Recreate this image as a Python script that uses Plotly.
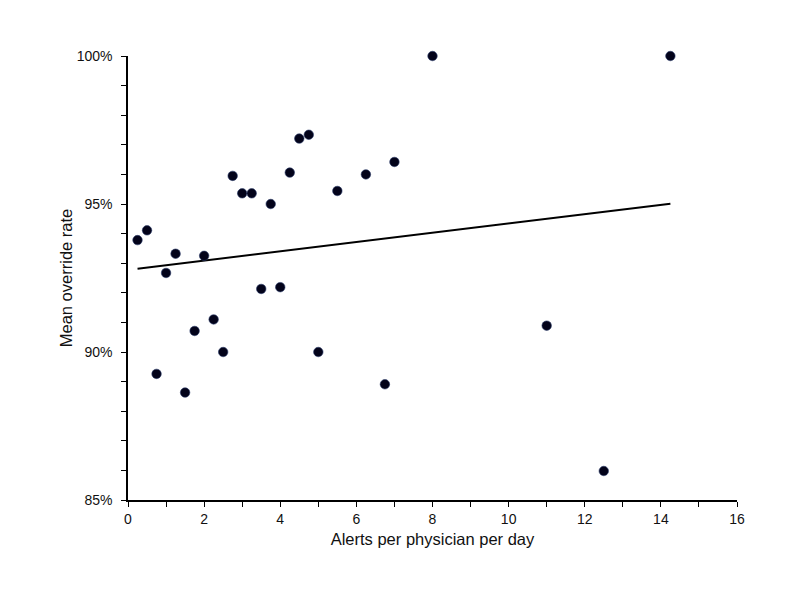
import numpy as np
import plotly.graph_objects as go

# alerts per physician per day vs mean override rate (%)
alerts = [0.25, 0.5, 0.75, 1.0, 1.25, 1.5, 1.75, 2.0, 2.25, 2.5, 2.75, 3.0, 3.25, 3.5,
          3.75, 4.0, 4.25, 4.5, 4.75, 5.0, 5.5, 6.25, 6.75, 7.0, 8.0, 11.0, 12.5, 14.25]
override_rate = [93.78, 94.11, 89.26, 92.67, 93.32, 88.63, 90.71, 93.25, 91.1, 90.0,
                 95.95, 95.36, 95.36, 92.13, 95.0, 92.19, 96.06, 97.21, 97.34, 90.0,
                 95.44, 96.0, 88.91, 96.42, 100.0, 90.89, 85.98, 100.0]

# linear trendline over the data range
slope, intercept = np.polyfit(alerts, override_rate, 1)
trend_x = [min(alerts), max(alerts)]
trend_y = [slope * v + intercept for v in trend_x]

fig = go.Figure()
fig.add_trace(go.Scatter(x=trend_x, y=trend_y, mode="lines",
                         line=dict(color="black", width=2), hoverinfo="skip"))
fig.add_trace(go.Scatter(x=alerts, y=override_rate, mode="markers", cliponaxis=False,
                         marker=dict(color="#03031a", size=9.5,
                                     line=dict(color="#2a3a6a", width=0.6))))

axis_style = dict(showline=True, linecolor="black", linewidth=1.5, showgrid=False,
                  zeroline=False, ticks="outside", ticklen=5, tickwidth=1.2,
                  tickcolor="black", tickfont=dict(size=14, color="#111"),
                  title_font=dict(size=16.5, color="#111"), automargin=False)

fig.update_xaxes(range=[0, 16], dtick=2, tick0=0,
                 minor=dict(dtick=1, ticks="outside", ticklen=5, tickcolor="black"),
                 title_text="Alerts per physician per day", title_standoff=8, **axis_style)
fig.update_yaxes(range=[85, 100], dtick=5, tick0=85, ticksuffix="%", ticklabelstandoff=6,
                 minor=dict(dtick=1, ticks="outside", ticklen=5, tickcolor="black"),
                 title_text="Mean override rate", title_standoff=0, **axis_style)

# page body adds 8px, so margins are shifted to keep the plot area in place
fig.update_layout(width=800, height=604, showlegend=False,
                  plot_bgcolor="white", paper_bgcolor="white",
                  font=dict(family="Liberation Sans, Arial, sans-serif"),
                  margin=dict(l=120, r=71, t=48, b=112))

fig.write_html("out.html")
